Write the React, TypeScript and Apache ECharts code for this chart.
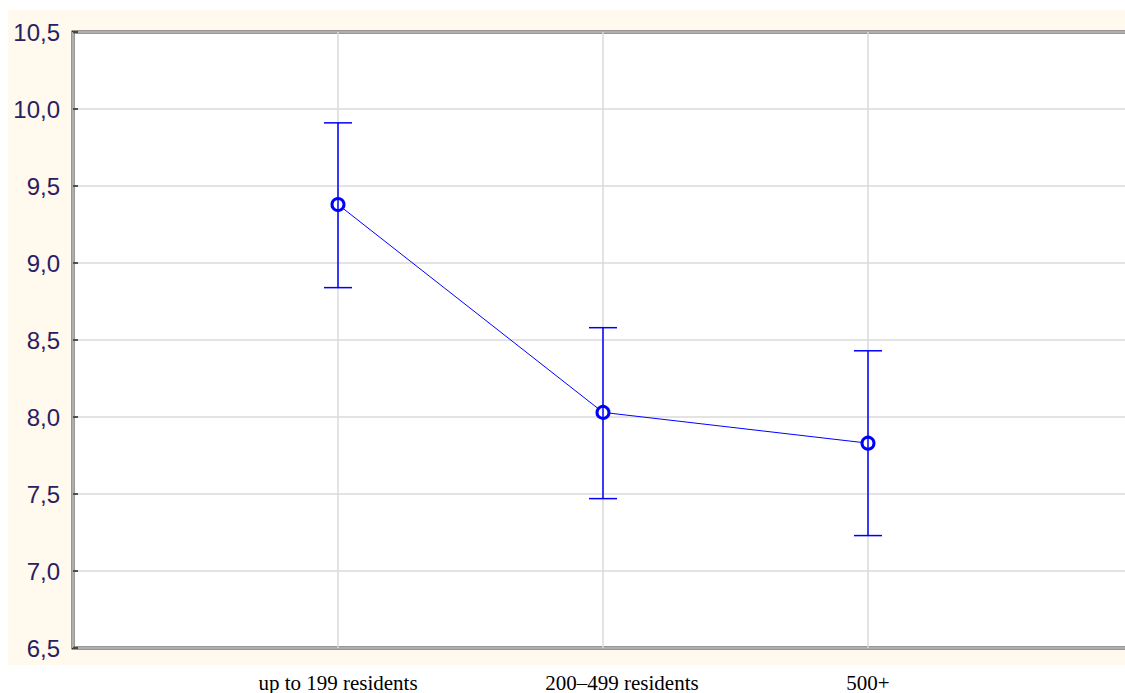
import React, { useEffect, useRef } from "react";
import * as echarts from "echarts";

const categories = ["up to 199 residents", "200–499 residents", "500+"];
const means = [9.38, 8.03, 7.83];
const upper = [9.91, 8.58, 8.43];
const lower = [8.84, 7.47, 7.23];
const yTicks = [6.5, 7.0, 7.5, 8.0, 8.5, 9.0, 9.5, 10.0, 10.5];

export default function App() {
  const ref = useRef<HTMLDivElement>(null);
  useEffect(() => {
    if (!ref.current) return;
    const chart = echarts.init(ref.current, null, { renderer: "svg" });
    const lineData = means.map((m, i) => [i + 1, m]);
    const errData = means.map((_, i) => [i + 1, lower[i], upper[i]]);
    chart.setOption({
      animation: false,
      backgroundColor: "#ffffff",
      graphic: [
        {
          type: "rect",
          z: -10,
          shape: { x: 8, y: 10, width: 1117, height: 655 },
          style: { fill: "#fff9ee" },
          silent: true,
        },
      ],
      grid: {
        left: 73,
        top: 32,
        width: 1060,
        height: 616,
        outerBoundsMode: "none",
        containLabel: false,
        show: true,
        backgroundColor: "#ffffff",
        borderColor: "#333333",
        borderWidth: 3,
      },
      xAxis: {
        type: "value",
        min: 0,
        max: 4,
        interval: 1,
        axisLine: { show: false },
        axisTick: { show: false },
        splitLine: { show: true, lineStyle: { color: "#dadada", width: 1.5 } },
        axisLabel: {
          margin: 24,
          fontFamily: "'Liberation Serif', 'Times New Roman', serif",
          fontSize: 21,
          color: "#000000",
          formatter: (v: number) => {
            const c = categories[Math.round(v) - 1];
            if (!c) return "";
            if (Math.round(v) === 2) return "{s|" + c + "}";
            return c;
          },
          rich: {
            s: {
              fontFamily: "'Liberation Serif', 'Times New Roman', serif",
              fontSize: 21,
              color: "#000000",
              padding: [0, 0, 0, 38],
            },
          },
        },
      },
      yAxis: {
        type: "value",
        min: yTicks[0],
        max: yTicks[yTicks.length - 1],
        interval: 0.5,
        axisLine: { show: false },
        axisTick: { show: true, inside: true, length: 5, lineStyle: { color: "#222222", width: 1.5 } },
        splitLine: { show: true, lineStyle: { color: "#dadada", width: 1.5 } },
        axisLabel: {
          margin: 13,
          fontFamily: "'Liberation Sans', Arial, sans-serif",
          fontSize: 24,
          color: "#2a2060",
          formatter: (v: number) => v.toFixed(1).replace(".", ","),
        },
      },
      series: [
        {
          type: "line",
          data: lineData,
          symbol: "circle",
          symbolSize: 12,
          lineStyle: { color: "#0000ff", width: 1 },
          itemStyle: { color: "#ffffff", borderColor: "#0000ff", borderWidth: 3 },
          z: 3,
        },
        {
          type: "custom",
          data: errData,
          z: 4,
          renderItem: (params: any, api: any) => {
            const x = api.value(0);
            const lo = api.coord([x, api.value(1)]);
            const hi = api.coord([x, api.value(2)]);
            const hw = 14;
            const style = { stroke: "#0000ff", lineWidth: 1.5, fill: "none" };
            return {
              type: "group",
              children: [
                { type: "line", shape: { x1: hi[0], y1: hi[1], x2: lo[0], y2: lo[1] }, style },
                { type: "line", shape: { x1: hi[0] - hw, y1: hi[1], x2: hi[0] + hw, y2: hi[1] }, style },
                { type: "line", shape: { x1: lo[0] - hw, y1: lo[1], x2: lo[0] + hw, y2: lo[1] }, style },
              ],
            };
          },
        },
      ],
    });
    return () => chart.dispose();
  }, []);
  return (
    <div
      ref={ref}
      style={{ position: "fixed", left: 0, top: 0, width: 1125, height: 693 }}
    />
  );
}
